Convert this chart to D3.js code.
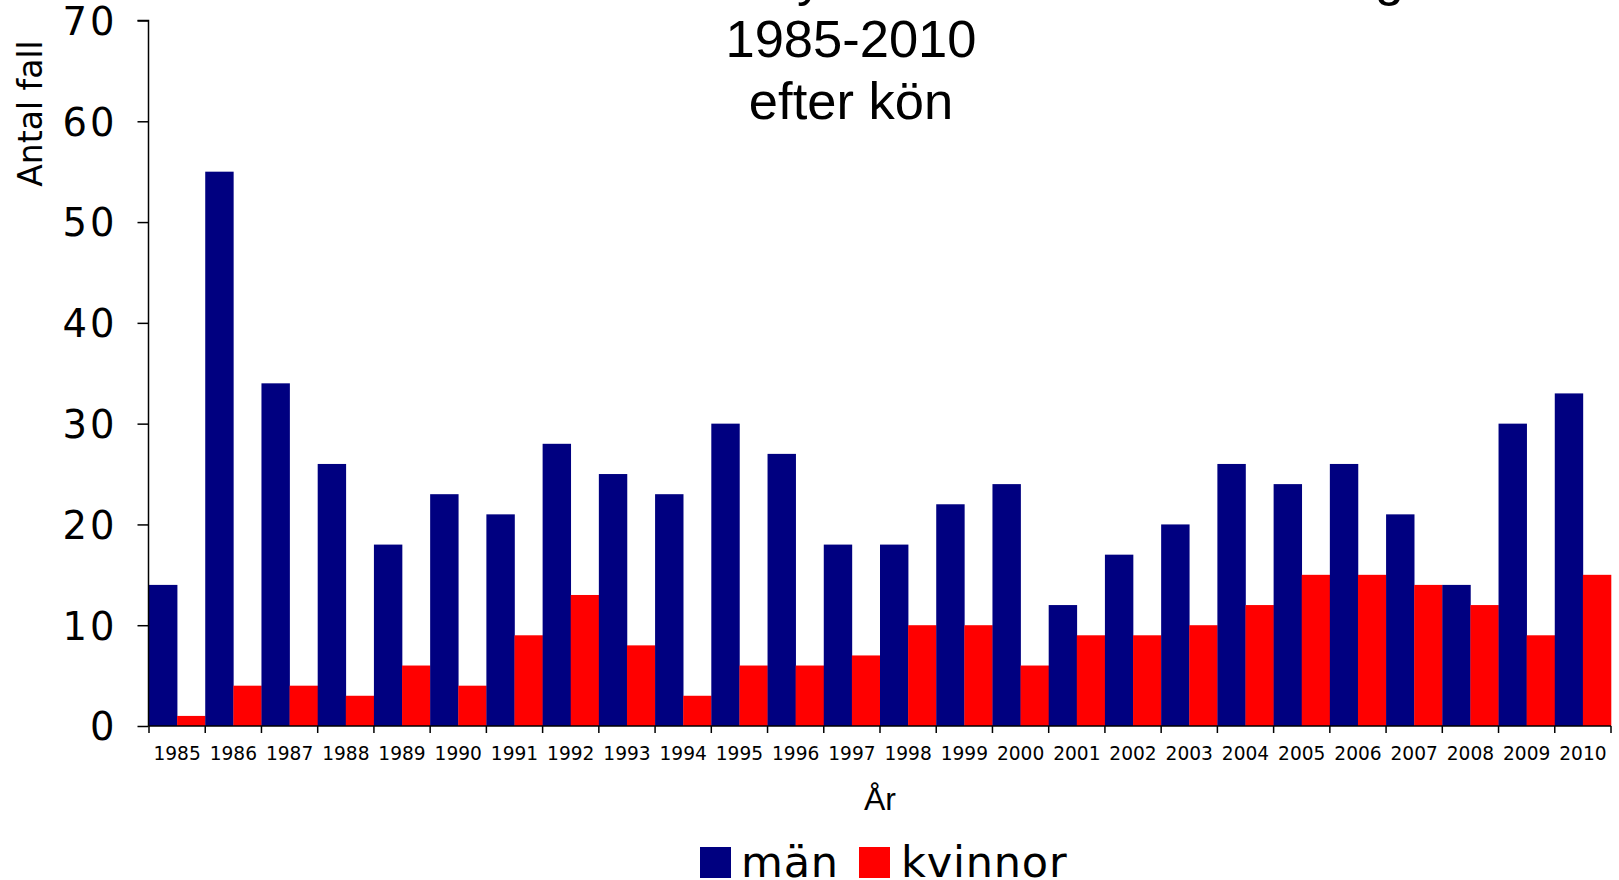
<!DOCTYPE html>
<html>
<head>
<meta charset="utf-8">
<script src="https://cdn.jsdelivr.net/npm/d3@7/dist/d3.min.js"></script>
<style>
  html, body { margin: 0; padding: 0; background: #fff; overflow: hidden; }
  svg { display: block; }
</style>
</head>
<body>
<svg id="chart" width="1619" height="880"></svg>
<script>
const years = ["1985","1986","1987","1988","1989","1990","1991","1992","1993","1994","1995","1996","1997","1998","1999","2000","2001","2002","2003","2004","2005","2006","2007","2008","2009","2010"];
const man = [14,55,34,26,18,23,21,28,25,23,30,27,18,18,22,24,12,17,20,26,24,26,21,14,30,33];
const kvinnor = [1,4,4,3,6,4,9,13,8,3,6,6,7,10,10,6,9,9,10,12,15,15,14,12,9,15];
const seriesNames = ["män","kvinnor"];
const seriesColors = ["#000080","#FF0000"];
const yTicks = [0,10,20,30,40,50,60,70];
const titleLines = ["Antal anmälda fall av syfilis smittade inom Sverige","1985-2010","efter kön"];
const yLabel = "Antal fall";
const xLabel = "År";

const svg = d3.select("#chart");
const x0 = 149, x1 = 1611, yBase = 726, yTop = 20.5;

const x = d3.scaleBand().domain(years).range([x0, x1]).padding(0);
const xs = d3.scaleBand().domain(seriesNames).range([0, x.bandwidth()]).padding(0);
const y = d3.scaleLinear().domain([0, 70]).range([yBase, yTop]);

const data = years.map((yr, i) => ({ year: yr, values: [man[i], kvinnor[i]] }));

// bars
const g = svg.append("g");
g.selectAll("g.yr").data(data).join("g")
  .attr("transform", d => `translate(${x(d.year)},0)`)
  .selectAll("rect").data(d => d.values.map((v, j) => ({ name: seriesNames[j], v, j })))
  .join("rect")
  .attr("x", d => xs(d.name))
  .attr("width", xs.bandwidth() + 0.3)
  .attr("y", d => y(d.v))
  .attr("height", d => yBase - y(d.v))
  .attr("fill", d => seriesColors[d.j]);

// y axis
const yAxis = d3.axisLeft(y).tickValues(yTicks).tickSize(11).tickPadding(20).tickFormat(d3.format("d"));
const ya = svg.append("g").attr("transform", `translate(${x0 - 0.5},0)`).call(yAxis);
ya.select(".domain").attr("d", `M-11,${y(70)}H0V${yBase}`).attr("stroke", "#000").attr("stroke-width", 1.5);
ya.selectAll(".tick line").attr("stroke", "#000").attr("stroke-width", 1.5);
ya.selectAll(".tick text").attr("font-family", "DejaVu Sans, Verdana, sans-serif").attr("font-size", 38.5)
  .attr("letter-spacing", 3).attr("fill", "#000").attr("dy", "0.36em");

// x axis line and boundary ticks
const xa = svg.append("g");
xa.append("line").attr("x1", x0 - 0.5).attr("x2", x1).attr("y1", yBase).attr("y2", yBase).attr("stroke", "#000").attr("stroke-width", 1.5);
const bounds = years.map(d => x(d)).concat([x1]);
xa.selectAll("line.bt").data(bounds).join("line").attr("class", "bt")
  .attr("x1", d => d).attr("x2", d => d).attr("y1", yBase).attr("y2", yBase + 7)
  .attr("stroke", "#000").attr("stroke-width", 1.5);
xa.selectAll("text").data(years).join("text")
  .attr("x", d => x(d) + x.bandwidth() / 2)
  .attr("y", 760)
  .attr("text-anchor", "middle")
  .attr("font-family", "DejaVu Sans, Verdana, sans-serif")
  .attr("font-size", 18.6)
  .attr("fill", "#000")
  .text(d => d);

// axis titles
svg.append("text")
  .attr("transform", "translate(42,113.5) rotate(-90)")
  .attr("text-anchor", "middle")
  .attr("font-family", "DejaVu Sans, Verdana, sans-serif")
  .attr("font-size", 33)
  .attr("fill", "#000")
  .text(yLabel);
svg.append("text")
  .attr("x", 880).attr("y", 810)
  .attr("text-anchor", "middle")
  .attr("font-family", "Liberation Sans, Arial, sans-serif")
  .attr("font-size", 32)
  .attr("fill", "#000")
  .text(xLabel);

// title
svg.selectAll("text.title").data(titleLines).join("text").attr("class", "title")
  .attr("x", 851)
  .attr("y", (d, i) => -4.7 + i * 61.7)
  .attr("text-anchor", "middle")
  .attr("font-family", "Liberation Sans, Arial, sans-serif")
  .attr("font-size", 52.5)
  .attr("fill", "#000")
  .text(d => d);

// legend
const legendPos = [{ sx: 700, tx: 741 }, { sx: 859, tx: 901 }];
const lg = svg.append("g");
lg.selectAll("rect").data(seriesNames).join("rect")
  .attr("x", (d, i) => legendPos[i].sx).attr("y", 847)
  .attr("width", 31).attr("height", 31)
  .attr("fill", (d, i) => seriesColors[i]);
lg.selectAll("text").data(seriesNames).join("text")
  .attr("x", (d, i) => legendPos[i].tx).attr("y", 877)
  .attr("font-family", "DejaVu Sans, Verdana, sans-serif")
  .attr("font-size", 43)
  .attr("letter-spacing", 0.8)
  .attr("fill", "#000")
  .text(d => d);
</script>
</body>
</html>
